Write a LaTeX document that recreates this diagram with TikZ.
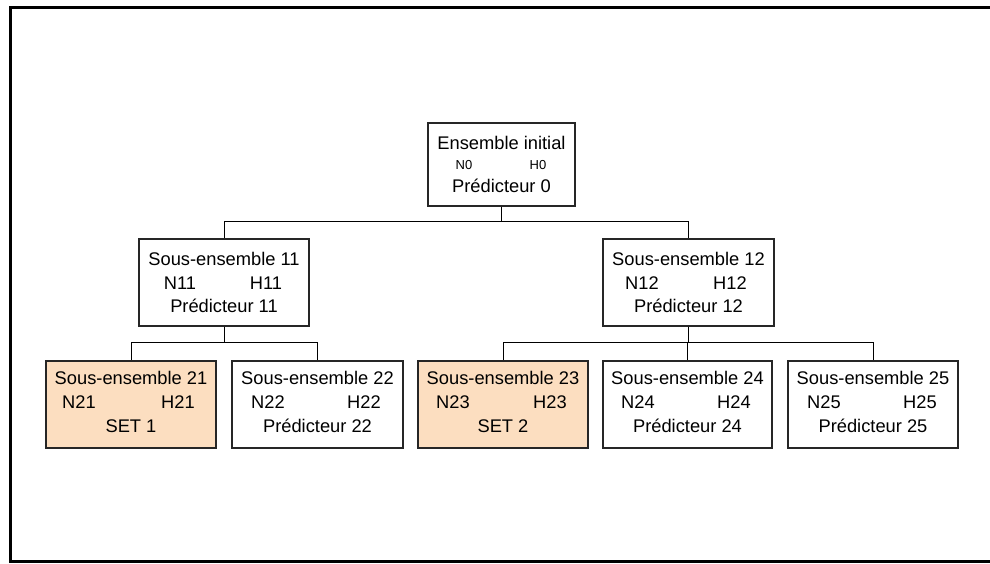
\documentclass[tikz,border=0pt]{standalone}
\usepackage{fontspec}
\setmainfont{Liberation Sans}
\definecolor{peach}{RGB}{252,222,192}
\begin{document}
\begin{tikzpicture}[x=1pt,y=-1pt,
  boxst/.style={draw=black!85,line width=1.2pt,minimum width=#1,minimum height=87pt,inner sep=0pt},
  boxst/.default=170pt,
  txt/.style={inner sep=0pt,font=\fontsize{18.3}{20}\selectfont},
  small/.style={inner sep=0pt,font=\fontsize{13}{14}\selectfont},
  conn/.style={line width=1pt,black}]
\useasboundingbox (0,0) rectangle (990,563);
\draw[line width=3pt] (992,7) -- (10,7) -- (10,561) -- (992,561);
% root
\node[boxst=147pt,minimum height=83pt] (root) at (501.5,164.5) {};
\node[txt] (rootA) at (501.5,143) {Ensemble initial};
\node[small] (rootN) at (464,165) {N0};
\node[small] (rootH) at (538,165) {H0};
\node[txt] (rootC) at (501.5,186) {Prédicteur 0};
% level 2
\node[boxst=170pt] (s11) at (224,282.5) {};
\node[txt] (s11A) at (224,259) {Sous-ensemble 11};
\node[txt] (s11N) at (180,283) {N11};
\node[txt] (s11H) at (266,283) {H11};
\node[txt] (s11C) at (224,306) {Prédicteur 11};
\node[boxst=171pt] (s12) at (688.5,282.5) {};
\node[txt] (s12A) at (688.5,259) {Sous-ensemble 12};
\node[txt] (s12N) at (642,283) {N12};
\node[txt] (s12H) at (730,283) {H12};
\node[txt] (s12C) at (688.5,306) {Prédicteur 12};
% level 3
\node[boxst=170pt,fill=peach] (b21) at (131,404.5) {};
\node[txt] (b21A) at (131,378) {Sous-ensemble 21};
\node[txt] (b21N) at (79,402) {N21};
\node[txt] (b21H) at (178,402) {H21};
\node[txt] (b21C) at (131,426) {SET 1};
\node[boxst=171pt] (b22) at (317.5,404.5) {};
\node[txt] (b22A) at (317.5,378) {Sous-ensemble 22};
\node[txt] (b22N) at (268,402) {N22};
\node[txt] (b22H) at (364,402) {H22};
\node[txt] (b22C) at (317.5,426) {Prédicteur 22};
\node[boxst=170pt,fill=peach] (b23) at (503,404.5) {};
\node[txt] (b23A) at (503,378) {Sous-ensemble 23};
\node[txt] (b23N) at (453,402) {N23};
\node[txt] (b23H) at (550,402) {H23};
\node[txt] (b23C) at (503,426) {SET 2};
\node[boxst=169pt] (b24) at (687.5,404.5) {};
\node[txt] (b24A) at (687.5,378) {Sous-ensemble 24};
\node[txt] (b24N) at (638,402) {N24};
\node[txt] (b24H) at (734,402) {H24};
\node[txt] (b24C) at (687.5,426) {Prédicteur 24};
\node[boxst=170pt] (b25) at (873,404.5) {};
\node[txt] (b25A) at (873,378) {Sous-ensemble 25};
\node[txt] (b25N) at (824,402) {N25};
\node[txt] (b25H) at (920,402) {H25};
\node[txt] (b25C) at (873,426) {Prédicteur 25};
% connectors
\draw[conn] (root.south) -- ++(0,15) -| (s11.north);
\draw[conn] (root.south) -- ++(0,15) -| (s12.north);
\draw[conn] (s11.south) -- ++(0,16) -| (b21.north);
\draw[conn] (s11.south) -- ++(0,16) -| (b22.north);
\draw[conn] (s12.south) -- ++(0,16) -| (b23.north);
\draw[conn] (s12.south) -- ++(0,16) -| (b24.north);
\draw[conn] (s12.south) -- ++(0,16) -| (b25.north);
\end{tikzpicture}
\end{document}
